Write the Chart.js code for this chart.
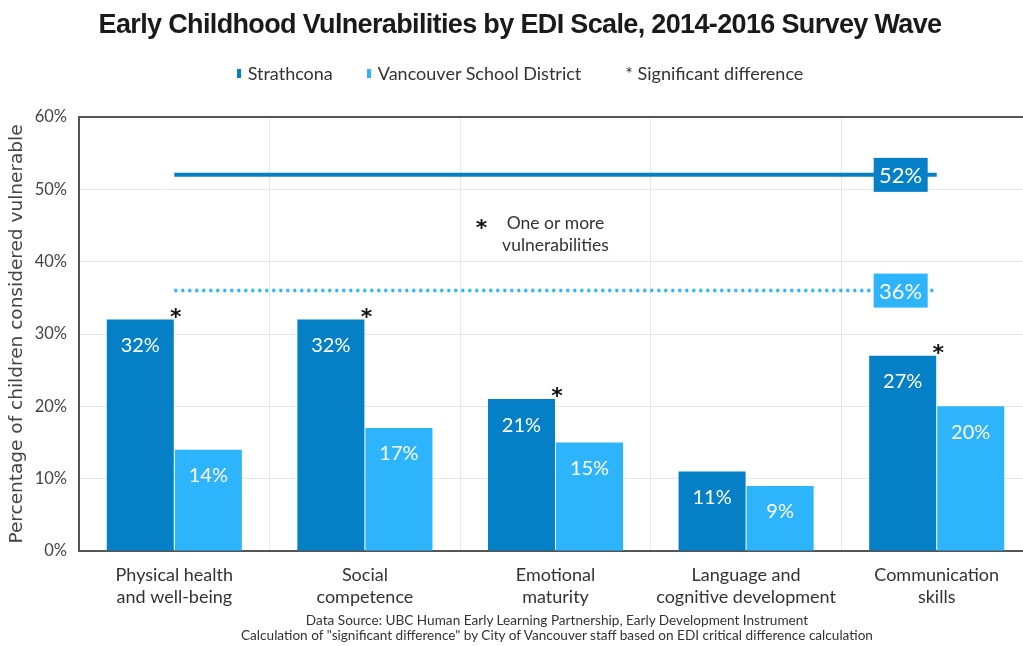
<!DOCTYPE html>
<html>
<head>
<meta charset="utf-8">
<script src="https://cdn.jsdelivr.net/npm/chart.js@4"></script>
<style>
  body { margin: 0; width: 1023px; height: 646px; overflow: hidden; background: #fff; font-family: Lato, sans-serif; color: #333; }
  #wrap { position: absolute; left: 0; top: 0; width: 1040px; height: 646px; }
  #titel { position: absolute; top: 9px; left: 0; width: 1040px; text-align: center; letter-spacing: -0.65px;
           font: bold 27px "Liberation Sans Narrow", sans-serif; color: #1a1a1a; }
  #legende { position: absolute; top: 62px; left: 0; width: 1040px; text-align: center; font-size: 18px; color: #333; }
  #legende span.item { display: inline-block; }
  #legende i { display: inline-block; width: 4px; height: 9px; margin-right: 7px; vertical-align: 2px; }
  #bron { position: absolute; top: 613px; left: 79px; width: 956px; text-align: center; font-size: 13.6px; line-height: 15px; color: #333; }
</style>
</head>
<body>
<div id="wrap">
  <div id="titel">Early Childhood Vulnerabilities by EDI Scale, 2014-2016 Survey Wave</div>
  <div id="legende"></div>
  <canvas id="grafiek" width="1040" height="646"></canvas>
  <div id="bron">Data Source: UBC Human Early Learning Partnership, Early Development Instrument<br>Calculation of "significant difference" by City of Vancouver staff based on EDI critical difference calculation</div>
</div>
<script>
// Categorieen en waarden (in %)
const schalen = [
    ['Physical health', 'and well-being'],
    ['Social', 'competence'],
    ['Emotional', 'maturity'],
    ['Language and', 'cognitive development'],
    ['Communication', 'skills']
];
const strathcona = [32, 32, 21, 11, 27];
const vancouverSD = [14, 17, 15, 9, 20];
const significant = [true, true, true, false, true];

// One or more vulnerabilities
const strathconaEenOfMeer = [52, 52, 52, 52, 52];
const vancouverEenOfMeer = [36, 36, 36, 36, 36];

const yTicks = [0, 10, 20, 30, 40, 50, 60];

const donkerBlauw = '#0580c6';
const lichtBlauw = '#2db4fa';

// legende als html
document.getElementById('legende').innerHTML =
    `<span class="item"><i style="background:${donkerBlauw}"></i>Strathcona</span>` +
    `<span class="item" style="margin-left:34px"><i style="background:${lichtBlauw}"></i>Vancouver School District</span>` +
    `<span class="item" style="margin-left:44px">* Significant difference</span>`;

const labelsPlugin = {
    id: 'labels',
    afterDraw(chart) {
        const ctx = chart.ctx;
        const area = chart.chartArea;
        ctx.save();

        // bovenrand
        ctx.strokeStyle = '#555';
        ctx.lineWidth = 2;
        ctx.beginPath();
        ctx.moveTo(area.left - 1, area.top);
        ctx.lineTo(area.right, area.top);
        ctx.stroke();

        // waarden in de balken
        ctx.fillStyle = '#fff';
        ctx.font = '20px Lato';
        ctx.textAlign = 'center';
        ctx.textBaseline = 'middle';
        [0, 1].forEach(di => {
            chart.getDatasetMeta(di).data.forEach((bar, i) => {
                ctx.fillText(chart.data.datasets[di].data[i] + '%', bar.x, bar.y + 26);
            });
        });

        // sterretjes
        const sMeta = chart.getDatasetMeta(0);
        ctx.fillStyle = '#111';
        ctx.font = 'bold 22px "DejaVu Sans"';
        ctx.textBaseline = 'alphabetic';
        sMeta.data.forEach((bar, i) => {
            if (!significant[i]) return;
            ctx.fillText('*', bar.x + bar.width / 2 + 2, bar.y + 4);
        });

        // labels bij de lijnen
        const laatste = sMeta.data[sMeta.data.length - 1];
        [[2, strathconaEenOfMeer], [3, vancouverEenOfMeer]].forEach(([di, waarden]) => {
            const ds = chart.data.datasets[di];
            const pt = chart.getDatasetMeta(di).data[waarden.length - 1];
            const bx = laatste.x - 2;
            ctx.fillStyle = ds.borderColor;
            ctx.fillRect(bx - 27, pt.y - 17, 54, 34);
            ctx.fillStyle = '#fff';
            ctx.font = '22px Lato';
            ctx.textAlign = 'center';
            ctx.textBaseline = 'middle';
            ctx.fillText(waarden[waarden.length - 1] + '%', bx, pt.y + 1);
        });

        // annotatie
        const x = chart.scales.x.getPixelForValue(2);
        const y = chart.scales.y;
        ctx.fillStyle = '#333';
        ctx.font = '17.5px Lato';
        ctx.fillText('One or more', x, y.getPixelForValue(45.3));
        ctx.fillText('vulnerabilities', x, y.getPixelForValue(42.3));
        ctx.fillStyle = '#111';
        ctx.font = 'bold 22px "DejaVu Sans"';
        ctx.textBaseline = 'alphabetic';
        ctx.fillText('*', x - 74, y.getPixelForValue(45.3) + 12);

        ctx.restore();
    }
};

new Chart(document.getElementById('grafiek'), {
    type: 'bar',
    data: {
        labels: schalen,
        datasets: [
            {
                label: 'Strathcona',
                data: strathcona,
                backgroundColor: donkerBlauw,
                categoryPercentage: 0.714,
                barPercentage: 0.985,
                order: 2
            },
            {
                label: 'Vancouver School District',
                data: vancouverSD,
                backgroundColor: lichtBlauw,
                categoryPercentage: 0.714,
                barPercentage: 0.985,
                order: 2
            },
            {
                type: 'line',
                label: 'Strathcona - one or more',
                data: strathconaEenOfMeer,
                borderColor: donkerBlauw,
                borderWidth: 4,
                pointRadius: 0,
                order: 1
            },
            {
                type: 'line',
                label: 'VSD - one or more',
                data: vancouverEenOfMeer,
                borderColor: lichtBlauw,
                borderWidth: 3.5,
                borderDash: [3, 4],
                pointRadius: 0,
                order: 1
            }
        ]
    },
    options: {
        responsive: false,
        animation: false,
        events: [],
        layout: { padding: { top: 117, right: 8, bottom: 0, left: 0 } },
        plugins: {
            legend: { display: false },
            tooltip: { enabled: false }
        },
        scales: {
            x: {
                grid: { color: '#e8e8e8', offset: true, drawTicks: false },
                border: { color: '#555', width: 2 },
                ticks: {
                    color: '#333',
                    font: { family: 'Lato', size: 18, lineHeight: 1.22 },
                    padding: 13,
                    maxRotation: 0,
                    autoSkip: false
                },
                afterFit: s => { s.height = 95; }
            },
            y: {
                min: 0,
                max: 60,
                afterBuildTicks: s => { s.ticks = yTicks.map(v => ({ value: v })); },
                grid: { color: '#e8e8e8', drawTicks: false },
                border: { color: '#555', width: 2 },
                ticks: {
                    color: '#444',
                    font: { family: 'Lato', size: 16.5 },
                    padding: 12,
                    callback: v => v + '%'
                },
                title: {
                    display: true,
                    text: 'Percentage of children considered vulnerable',
                    color: '#444',
                    font: { family: 'DejaVu Sans', size: 18.5 },
                    padding: { top: 6, bottom: 0 }
                },
                afterFit: s => { s.width = 79; }
            }
        }
    },
    plugins: [labelsPlugin]
});
</script>
</body>
</html>
